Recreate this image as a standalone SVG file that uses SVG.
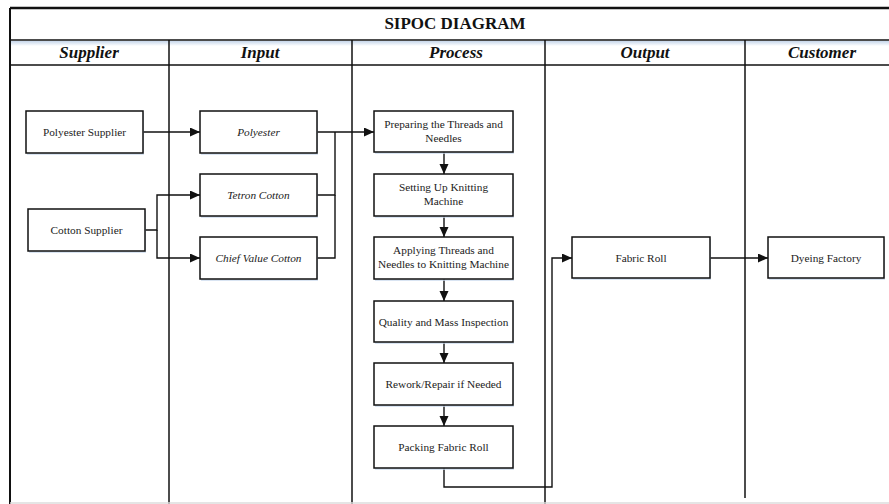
<svg xmlns="http://www.w3.org/2000/svg" width="889" height="504" viewBox="0 0 889 504">
  <style>
    .frame { stroke: #111; fill: none; }
    .box { fill: #fff; stroke: #111; stroke-width: 1.5; }
    .shadow { fill: #c9d9ec; opacity: 0.7; }
    .lbl { font-family: "Liberation Serif", "Times New Roman", serif; font-size: 11.3px; fill: #222; text-anchor: middle; }
    .it { font-style: italic; }
    .hdr { font-family: "Liberation Serif", "Times New Roman", serif; font-size: 17px; font-weight: bold; font-style: italic; fill: #111; text-anchor: middle; }
    .title { font-family: "Liberation Serif", "Times New Roman", serif; font-size: 17px; font-weight: bold; fill: #111; text-anchor: middle; }
    .conn { fill: none; stroke: #111; stroke-width: 1.4; }
  </style>
  <defs>
    <marker id="arrow" markerUnits="userSpaceOnUse" markerWidth="11" markerHeight="10" refX="10" refY="4.5" orient="auto">
      <path d="M0,0 L10,4.5 L0,9 z" fill="#111"/>
    </marker>
    <linearGradient id="band" x1="0" y1="0" x2="0" y2="1">
      <stop offset="0" stop-color="#c6d6ea"/>
      <stop offset="1" stop-color="#ffffff"/>
    </linearGradient>
  </defs>

  <rect width="889" height="504" fill="#fff"/>

  <!-- table frame -->
  <g id="frame">
    <rect x="10" y="41" width="879" height="5" fill="url(#band)"/>
    <line class="frame" x1="10" y1="8" x2="889" y2="8" stroke-width="2.5"/>
    <line class="frame" x1="10" y1="8" x2="10" y2="504" stroke-width="2"/>
    <line class="frame" x1="10" y1="40" x2="889" y2="40" stroke-width="1.5"/>
    <line class="frame" x1="10" y1="65" x2="889" y2="65" stroke-width="1.3"/>
    <line class="frame" x1="169" y1="40" x2="169" y2="504" stroke-width="1.5"/>
    <line class="frame" x1="352" y1="40" x2="352" y2="504" stroke-width="1.5"/>
    <line class="frame" x1="545" y1="40" x2="545" y2="504" stroke-width="1.5"/>
    <line class="frame" x1="745" y1="40" x2="745" y2="498" stroke-width="1.5"/>
    <line x1="10" y1="503" x2="889" y2="503" stroke="#dddddd" stroke-width="1.5"/>
    <text class="title" x="455" y="29">SIPOC DIAGRAM</text>
    <text class="hdr" x="89" y="58">Supplier</text>
    <text class="hdr" x="260" y="58">Input</text>
    <text class="hdr" x="456" y="58">Process</text>
    <text class="hdr" x="645" y="58">Output</text>
    <text class="hdr" x="822" y="58">Customer</text>
  </g>

  <!-- connectors -->
  <g id="connectors">
    <path class="conn" d="M143,132 H200" marker-end="url(#arrow)"/>
    <path class="conn" d="M145,230 H157 V195 H200" marker-end="url(#arrow)"/>
    <path class="conn" d="M157,230 V258 H200" marker-end="url(#arrow)"/>
    <path class="conn" d="M317,132 H374" marker-end="url(#arrow)"/>
    <path class="conn" d="M317,195 H335 V132"/>
    <path class="conn" d="M317,258 H335 V195"/>
    <path class="conn" d="M444,152 V174" marker-end="url(#arrow)"/>
    <path class="conn" d="M444,216 V237" marker-end="url(#arrow)"/>
    <path class="conn" d="M444,279 V301" marker-end="url(#arrow)"/>
    <path class="conn" d="M444,342 V363" marker-end="url(#arrow)"/>
    <path class="conn" d="M444,405 V426" marker-end="url(#arrow)"/>
    <path class="conn" d="M444,468 V487 H552 V258 H572" marker-end="url(#arrow)"/>
    <path class="conn" d="M710,258 H768" marker-end="url(#arrow)"/>
  </g>

  <!-- supplier -->
  <g id="polyester-supplier">
    <rect class="shadow" x="27" y="113" width="117" height="42"/>
    <rect class="box" x="26" y="111" width="117" height="42"/>
    <text class="lbl" x="84.5" y="136">Polyester Supplier</text>
  </g>
  <g id="cotton-supplier">
    <rect class="shadow" x="29" y="211" width="117" height="42"/>
    <rect class="box" x="28" y="209" width="117" height="42"/>
    <text class="lbl" x="86.5" y="234">Cotton Supplier</text>
  </g>

  <!-- input -->
  <g id="polyester">
    <rect class="shadow" x="201" y="113" width="117" height="42"/>
    <rect class="box" x="200" y="111" width="117" height="42"/>
    <text class="lbl it" x="258.5" y="136">Polyester</text>
  </g>
  <g id="tetron-cotton">
    <rect class="shadow" x="201" y="176" width="117" height="42"/>
    <rect class="box" x="200" y="174" width="117" height="42"/>
    <text class="lbl it" x="258.5" y="199">Tetron Cotton</text>
  </g>
  <g id="chief-value-cotton">
    <rect class="shadow" x="201" y="239" width="117" height="42"/>
    <rect class="box" x="200" y="237" width="117" height="42"/>
    <text class="lbl it" x="258.5" y="262">Chief Value Cotton</text>
  </g>

  <!-- process -->
  <g id="preparing">
    <rect class="shadow" x="375" y="113" width="139" height="41"/>
    <rect class="box" x="374" y="111" width="139" height="41"/>
    <text class="lbl" x="443.5" y="128">Preparing the Threads and</text>
    <text class="lbl" x="443.5" y="141.5">Needles</text>
  </g>
  <g id="setting-up">
    <rect class="shadow" x="375" y="176" width="139" height="42"/>
    <rect class="box" x="374" y="174" width="139" height="42"/>
    <text class="lbl" x="443.5" y="191">Setting Up Knitting</text>
    <text class="lbl" x="443.5" y="204.5">Machine</text>
  </g>
  <g id="applying">
    <rect class="shadow" x="375" y="239" width="139" height="42"/>
    <rect class="box" x="374" y="237" width="139" height="42"/>
    <text class="lbl" x="443.5" y="254">Applying Threads and</text>
    <text class="lbl" x="443.5" y="267.5">Needles to Knitting Machine</text>
  </g>
  <g id="quality">
    <rect class="shadow" x="375" y="303" width="139" height="41"/>
    <rect class="box" x="374" y="301" width="139" height="41"/>
    <text class="lbl" x="443.5" y="325.5">Quality and Mass Inspection</text>
  </g>
  <g id="rework">
    <rect class="shadow" x="375" y="365" width="139" height="42"/>
    <rect class="box" x="374" y="363" width="139" height="42"/>
    <text class="lbl" x="443.5" y="388">Rework/Repair if Needed</text>
  </g>
  <g id="packing">
    <rect class="shadow" x="375" y="428" width="139" height="42"/>
    <rect class="box" x="374" y="426" width="139" height="42"/>
    <text class="lbl" x="443.5" y="451">Packing Fabric Roll</text>
  </g>

  <!-- output -->
  <g id="fabric-roll">
    <rect class="shadow" x="573" y="239" width="138" height="41"/>
    <rect class="box" x="572" y="237" width="138" height="41"/>
    <text class="lbl" x="641" y="261.5">Fabric Roll</text>
  </g>

  <!-- customer -->
  <g id="dyeing-factory">
    <rect class="shadow" x="769" y="239" width="116" height="41"/>
    <rect class="box" x="768" y="237" width="116" height="41"/>
    <text class="lbl" x="826" y="261.5">Dyeing Factory</text>
  </g>
</svg>
